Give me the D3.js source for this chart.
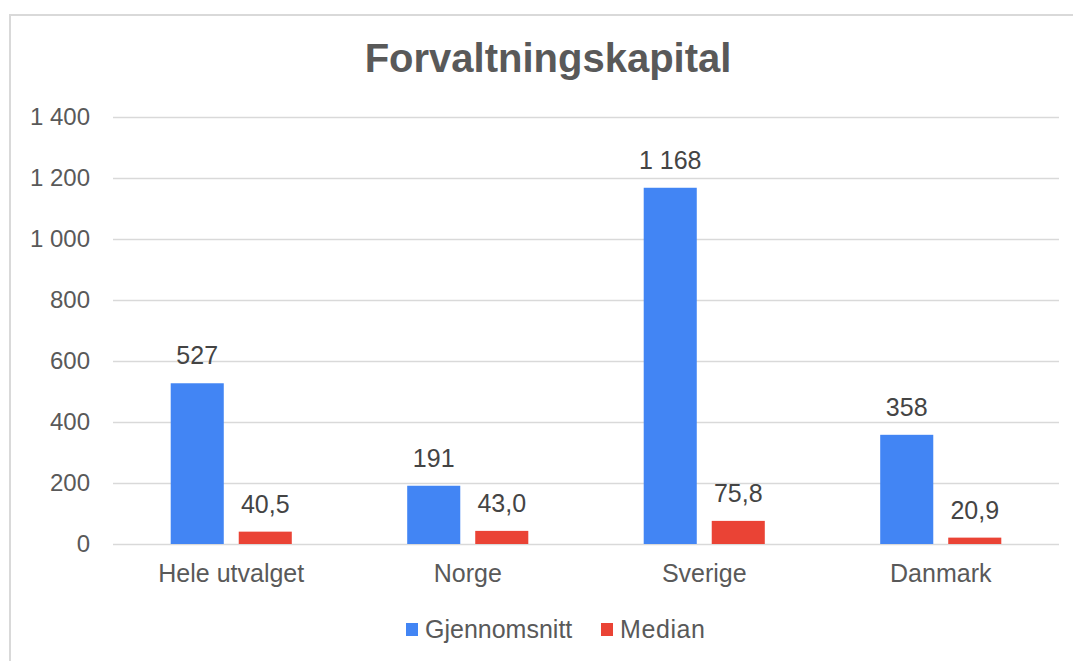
<!DOCTYPE html>
<html>
<head>
<meta charset="utf-8">
<script src="https://cdn.jsdelivr.net/npm/d3@7"></script>
<style>
  html, body { margin: 0; padding: 0; background: #fff; }
  text { font-family: "Liberation Sans", Arial, sans-serif; }
</style>
</head>
<body>
<div id="chart"></div>
<script>
// Data
var categories  = [ 'Hele utvalget', 'Norge', 'Sverige', 'Danmark' ];
var series      = [ 'Gjennomsnitt', 'Median' ];
var gjennomsnitt = [ 527, 191, 1168, 358 ];
var median       = [ 40.5, 43.0, 75.8, 20.9 ];
var y_ticks      = [ 0, 200, 400, 600, 800, 1000, 1200, 1400 ];
var colors       = [ '#4285f4', '#ea4335' ];

var chart_width  = 1073;
var chart_height = 661;

// norwegian number format: space as thousands, comma as decimal
var nb = d3.formatLocale({ decimal: ',', thousands: '\u00a0', grouping: [3], currency: ['', ' kr'] });
var fmt_int = nb.format(',d');
var fmt_dec = nb.format(',.1f');

var rows = categories.map(function(c, i){
    return { category: c, values: [ gjennomsnitt[i], median[i] ] };
});

var svg = d3.select('#chart')
    .append('svg')
    .attr('width', chart_width)
    .attr('height', chart_height);

// frame (top + left edge visible)
svg.append('path')
    .attr('d', 'M10,' + chart_height + 'V15H' + chart_width)
    .attr('fill', 'none')
    .attr('stroke', '#d9d9d9')
    .attr('stroke-width', 2);

// title
svg.append('text')
    .attr('x', 548)
    .attr('y', 72)
    .attr('text-anchor', 'middle')
    .attr('font-size', 40)
    .attr('font-weight', 'bold')
    .attr('fill', '#595959')
    .text('Forvaltningskapital');

// scales
var x0 = d3.scaleBand()
    .domain(categories)
    .range([113, 1059])
    .paddingInner(0.488)
    .paddingOuter(0.244);

var x1 = d3.scaleBand()
    .domain(series)
    .range([0, x0.bandwidth()])
    .paddingInner(0.22);

var y = d3.scaleLinear()
    .domain([0, 1400])
    .range([544, 117]);

// gridlines
svg.append('g')
    .selectAll('line')
    .data(y_ticks)
    .enter()
    .append('line')
    .attr('x1', 113)
    .attr('x2', 1059)
    .attr('y1', function(d){ return y(d) + 0.5; })
    .attr('y2', function(d){ return y(d) + 0.5; })
    .attr('stroke', '#d9d9d9')
    .attr('stroke-width', 1.5);

// y axis labels
var y_axis = svg.append('g')
    .attr('transform', 'translate(103,0)')
    .call(d3.axisLeft(y).tickValues(y_ticks).tickFormat(fmt_int).tickSize(0).tickPadding(13));
y_axis.select('.domain').remove();
y_axis.selectAll('text')
    .attr('font-size', 24)
    .attr('font-family', '"Liberation Sans", Arial, sans-serif')
    .attr('fill', '#595959');

// x axis labels
var x_axis = svg.append('g')
    .attr('transform', 'translate(0,' + y(0) + ')')
    .call(d3.axisBottom(x0).tickSize(0).tickPadding(20));
x_axis.select('.domain').remove();
x_axis.selectAll('text')
    .attr('font-size', 25)
    .attr('font-family', '"Liberation Sans", Arial, sans-serif')
    .attr('fill', '#595959');

// bars
var groups = svg.selectAll('g.group')
    .data(rows)
    .enter()
    .append('g')
    .attr('class', 'group')
    .attr('transform', function(d){ return 'translate(' + x0(d.category) + ',0)'; });

groups.selectAll('rect')
    .data(function(d){ return d.values.map(function(v, i){ return { s: series[i], v: v, i: i }; }); })
    .enter()
    .append('rect')
    .attr('x', function(d){ return x1(d.s); })
    .attr('width', x1.bandwidth())
    .attr('y', function(d){ return y(d.v); })
    .attr('height', function(d){ return y(0) - y(d.v); })
    .attr('fill', function(d){ return colors[d.i]; });

groups.selectAll('text.val')
    .data(function(d){ return d.values.map(function(v, i){ return { s: series[i], v: v, i: i }; }); })
    .enter()
    .append('text')
    .attr('class', 'val')
    .attr('x', function(d){ return x1(d.s) + x1.bandwidth() / 2; })
    .attr('y', function(d){ return y(d.v) - 19; })
    .attr('text-anchor', 'middle')
    .attr('font-size', 25)
    .attr('fill', '#444')
    .text(function(d){ return d.i === 0 ? fmt_int(d.v) : fmt_dec(d.v); });

// legend
var legend_x = [ 406, 601 ];
var legend = svg.selectAll('g.legend')
    .data(series)
    .enter()
    .append('g')
    .attr('class', 'legend')
    .attr('transform', function(d, i){ return 'translate(' + legend_x[i] + ',623)'; });

legend.append('rect')
    .attr('width', 12)
    .attr('height', 13)
    .attr('fill', function(d, i){ return colors[i]; });

legend.append('text')
    .attr('x', 19)
    .attr('y', 15)
    .attr('font-size', 25)
    .attr('fill', '#595959')
    .attr('letter-spacing', function(d, i){ return i === 1 ? 0.6 : 0; })
    .text(function(d){ return d; });
</script>
</body>
</html>
